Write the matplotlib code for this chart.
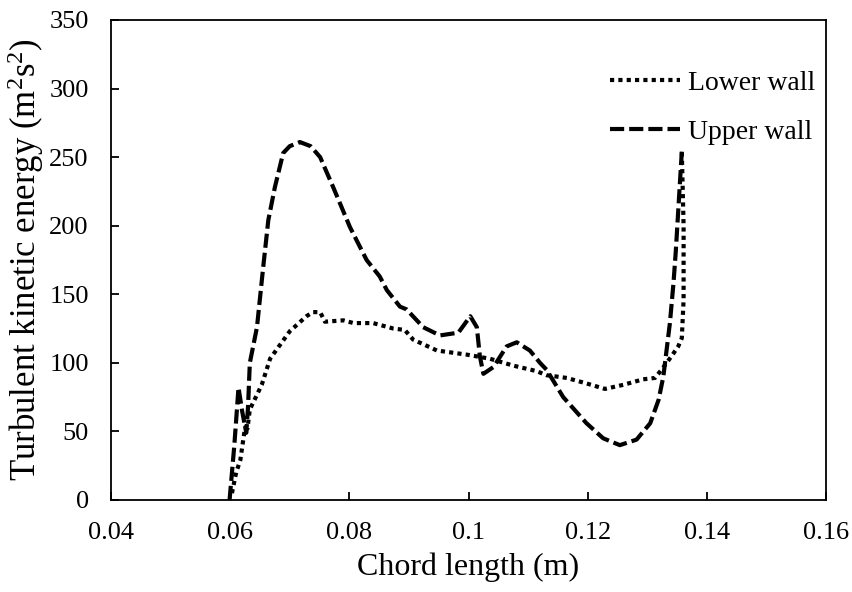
import matplotlib
matplotlib.use("Agg")
import matplotlib.pyplot as plt

plt.rcParams['font.family'] = ['Liberation Serif', 'DejaVu Serif']
plt.rcParams['mathtext.fontset'] = 'custom'
plt.rcParams['mathtext.rm'] = 'Liberation Serif'
plt.rcParams['mathtext.it'] = 'Liberation Serif:italic'
plt.rcParams['mathtext.default'] = 'regular'

lower_x = [0.0603, 0.0610, 0.0617, 0.0625, 0.0629, 0.0633, 0.0653, 0.0667, 0.0700,
           0.0728, 0.0739, 0.0751, 0.0759, 0.0790, 0.0807, 0.0840, 0.0874, 0.0893,
           0.0907, 0.0947, 0.0997, 0.1036, 0.1075, 0.1114, 0.1131, 0.1165, 0.1198,
           0.1229, 0.1260, 0.1293, 0.1313, 0.1324, 0.1341, 0.1352, 0.1358, 0.1361,
           0.1361, 0.1358]
lower_y = [5, 20, 29, 53, 52, 66, 84, 103, 123,
           134, 137, 137, 130, 131, 129, 129, 125, 124,
           117, 109, 106, 103, 98, 94, 91, 89, 85,
           81, 84, 88, 89, 95, 105, 112, 118, 146,
           200, 254]

upper_x = [0.0599, 0.0607, 0.0614, 0.0620, 0.0627, 0.0630, 0.0633, 0.0645, 0.0655,
           0.0664, 0.0675, 0.0689, 0.0700, 0.0717, 0.0735, 0.0751, 0.0773, 0.0801,
           0.0829, 0.0851, 0.0863, 0.0885, 0.0896, 0.0924, 0.0952, 0.0983, 0.1003,
           0.1014, 0.1019, 0.1025, 0.1042, 0.1064, 0.1081, 0.1103, 0.1120, 0.1131,
           0.1159, 0.1198, 0.1226, 0.1254, 0.1282, 0.1305, 0.1319, 0.1327, 0.1338,
           0.1344, 0.1348, 0.1358]
upper_y = [0, 40, 82, 65, 49, 68, 100, 126, 168,
           204, 228, 253, 258, 261, 258, 250, 228, 199,
           175, 163, 153, 141, 139, 126, 120, 122, 134,
           126, 105, 92, 97, 112, 115, 109, 100, 95,
           75, 56, 45, 40, 44, 56, 73, 90, 129,
           158, 182, 254]

x_ticks = [0.04, 0.06, 0.08, 0.1, 0.12, 0.14, 0.16]
x_tick_labels = ['0.04', '0.06', '0.08', '0.1', '0.12', '0.14', '0.16']
y_ticks = [0, 50, 100, 150, 200, 250, 300, 350]

fig = plt.figure(figsize=(8.52, 5.92), dpi=100)
ax = fig.add_axes([111/852, 92/592, 715/852, 480/592])

ax.plot(lower_x, lower_y, color='black', linewidth=3.0, linestyle=(0, (1, 1)),
        dash_capstyle='butt', label='Lower wall')
ax.plot(upper_x, upper_y, color='black', linewidth=3.0, linestyle=(0, (3.4, 1.2)),
        dash_capstyle='butt', label='Upper wall')

ax.set_xlim(0.04, 0.16)
ax.set_ylim(0, 350)
ax.set_xticks(x_ticks)
ax.set_xticklabels(x_tick_labels)
ax.set_yticks(y_ticks)
ax.tick_params(direction='in', length=6, width=1.3, labelsize=19, pad=16)
for s in ax.spines.values():
    s.set_linewidth(1.3)

ax.set_xlabel('Chord length (m)', fontsize=23, labelpad=6)
ax.set_ylabel('Turbulent kinetic energy (m$^{2}$s$^{2}$)', fontsize=25, labelpad=2)

leg = ax.legend(loc='upper right', bbox_to_anchor=(0.985, 0.895), frameon=False,
                fontsize=20, handlelength=2.5, labelspacing=0.85, handletextpad=0.3,
                borderpad=0, borderaxespad=0)

fig.savefig('out.png', dpi=100)
